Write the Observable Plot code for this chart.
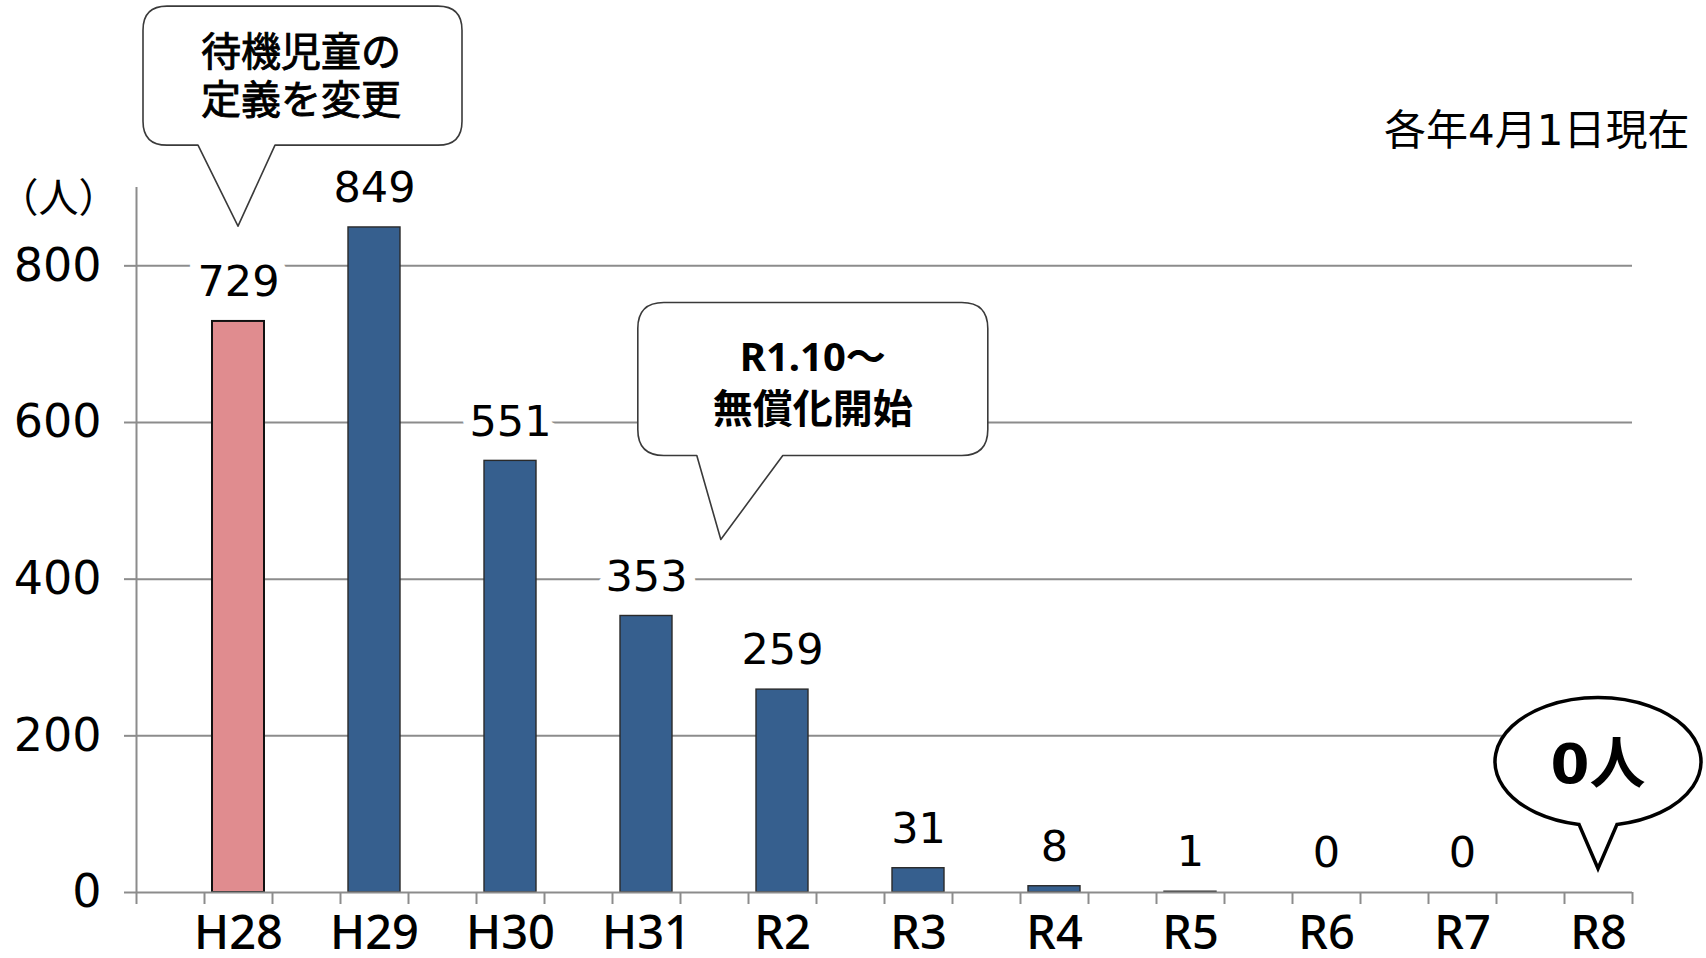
<!DOCTYPE html>
<html lang="ja">
<head>
<meta charset="utf-8">
<script src="https://cdn.jsdelivr.net/npm/d3@7"></script>
<script src="https://cdn.jsdelivr.net/npm/@observablehq/plot@0.6"></script>
<style>
html, body { margin: 0; padding: 0; background: #fff; }
#chart svg { display: block; }
</style>
</head>
<body>
<div id="chart"></div>
<script>
// ---- data ----
const categories = ["H28", "H29", "H30", "H31", "R2", "R3", "R4", "R5", "R6", "R7", "R8"];
const values = [729, 849, 551, 353, 259, 31, 8, 1, 0, 0, null];
const highlighted = ["H28"];
const yTicks = [0, 200, 400, 600, 800];
const yMax = 900;
const unitLabel = "（人）";
const dateNote = "各年4月1日現在";
const calloutLines = [["待機児童の", "定義を変更"], ["R1.10～", "無償化開始"], ["0人"]];
const calloutCategoryPos = [0, 3.55, 10];
const calloutValues = [850, 450, 30];

// ---- layout helpers ----
const FONT = '"DejaVu Sans", "Noto Sans CJK JP", sans-serif';
const XFONT = '"Noto Sans", "Noto Sans CJK JP", sans-serif';
const data = categories.map((cat, i) => ({cat, i, value: values[i]}));
const slotStart = i => 2 * i + 1;   // each category sits in the second half-slot
const center = i => 2 * i + 1.5;
const GRID = "#8c8c8c";

function roundedCallout(g, tx, ty, box, base, r, strokeColor, strokeW) {
  const {L, R, T, B} = box;
  const p = [
    `M${L + r},${T}`, `H${R - r}`, `Q${R},${T} ${R},${T + r}`, `V${B - r}`,
    `Q${R},${B} ${R - r},${B}`, `H${base[1]}`, `L${tx},${ty}`, `L${base[0]},${B}`,
    `H${L + r}`, `Q${L},${B} ${L},${B - r}`, `V${T + r}`, `Q${L},${T} ${L + r},${T}`, "Z"
  ].join(" ");
  g.append("path").attr("d", p).attr("fill", "#fff").attr("stroke", strokeColor)
    .attr("stroke-width", strokeW).attr("stroke-linejoin", "round");
}

function calloutMark(index, scales) {
  const sx = scales.x, sy = scales.y;
  const g = d3.create("svg:g").attr("font-family", FONT);

  // callout 1
  {
    const tx = sx(center(calloutCategoryPos[0])), ty = sy(calloutValues[0]);
    roundedCallout(g, tx, ty, {L: tx - 95, R: tx + 224, T: ty - 220, B: ty - 81},
      [tx - 40, tx + 37], 24, "#3a3a3a", 1.6);
    calloutLines[0].forEach((t, k) => {
      g.append("text").attr("x", tx + 63).attr("y", ty - 160 + k * 48)
        .attr("text-anchor", "middle").attr("font-size", 40).attr("font-weight", 400)
        .attr("fill", "#000").attr("stroke", "#000").attr("stroke-width", 0.9).text(t);
    });
  }
  // callout 2
  {
    const tx = sx(center(calloutCategoryPos[1])), ty = sy(calloutValues[1]);
    roundedCallout(g, tx, ty, {L: tx - 83, R: tx + 267, T: ty - 237, B: ty - 84},
      [tx - 24, tx + 62], 26, "#3a3a3a", 1.6);
    calloutLines[1].forEach((t, k) => {
      g.append("text").attr("x", tx + 92).attr("y", ty - 169 + k * 52)
        .attr("text-anchor", "middle").attr("font-size", 40).attr("font-weight", 700)
        .attr("font-family", k === 0 ? XFONT : FONT)
        .attr("fill", "#000").text(t);
    });
  }
  // callout 3 (ellipse)
  {
    const tx = sx(center(calloutCategoryPos[2])), ty = sy(calloutValues[2]);
    const cx = tx, cy = ty - 107, rx = 103, ry = 64, hb = 19;
    const by = cy + ry * Math.sqrt(1 - (hb / rx) ** 2);
    const p = `M${cx - hb},${by} L${tx},${ty} L${cx + hb},${by} A${rx},${ry} 0 1 0 ${cx - hb},${by} Z`;
    g.append("path").attr("d", p).attr("fill", "#fff").attr("stroke", "#000")
      .attr("stroke-width", 3.5).attr("stroke-linejoin", "miter");
    g.append("text").attr("x", tx).attr("y", ty - 86)
      .attr("text-anchor", "middle").attr("font-size", 56).attr("font-weight", 700)
      .attr("fill", "#000").text(calloutLines[2][0]);
  }
  return g.node();
}

const chart = Plot.plot({
  width: 1706,
  height: 958,
  marginLeft: 136,
  marginRight: 74,
  marginTop: 187,
  marginBottom: 66,
  style: {fontFamily: FONT, background: "#fff", color: "#000"},
  x: {type: "linear", domain: [0, 2 * categories.length], axis: null},
  y: {domain: [0, yMax], axis: null},
  marks: [
    Plot.ruleY(yTicks.filter(v => v > 0), {stroke: GRID, strokeWidth: 2}),
    Plot.axisY({ticks: yTicks, tickSize: 12, tickPadding: 23, fontSize: 46, label: null,
      stroke: GRID, strokeWidth: 2, fill: "#000", tickFormat: d => String(d)}),
    Plot.ruleX([0], {stroke: GRID, strokeWidth: 2}),
    Plot.axisX({ticks: d3.range(0, 2 * categories.length + 1), tickSize: 12, label: null,
      tickFormat: () => "", stroke: GRID, strokeWidth: 2}),
    Plot.axisX({ticks: categories.map((c, i) => center(i)), tickSize: 0, tickPadding: 23, label: null,
      fontSize: 47, fontWeight: 500, fontFamily: XFONT, fill: "#000",
      tickFormat: v => categories[Math.round((v - 1.5) / 2)]}),
    Plot.rectY(data.filter(d => d.value > 0), {
      x1: d => slotStart(d.i), x2: d => slotStart(d.i) + 1, y: "value",
      insetLeft: 8, insetRight: 8,
      fill: d => highlighted.includes(d.cat) ? "#E08C8F" : "#365F8E",
      stroke: d => highlighted.includes(d.cat) ? "#111" : "#2a2a2a",
      strokeWidth: d => highlighted.includes(d.cat) ? 2 : 1.4
    }),
    Plot.ruleY([0], {stroke: GRID, strokeWidth: 2}),
    Plot.text(data.filter(d => d.value != null), {
      x: d => center(d.i), y: "value", text: d => String(d.value),
      dy: -39, fontSize: 43, fill: "#000", stroke: "#fff", strokeWidth: 22, paintOrder: "stroke"
    }),
    Plot.text([unitLabel], {frameAnchor: "top-left", dx: -18, dy: -4, textAnchor: "end",
      fontSize: 40, fill: "#000"}),
    Plot.text([dateNote], {frameAnchor: "top-right", dx: 57, dy: -72, textAnchor: "end",
      fontSize: 42, fill: "#000"}),
    calloutMark
  ]
});
document.getElementById("chart").appendChild(chart);
</script>
</body>
</html>
